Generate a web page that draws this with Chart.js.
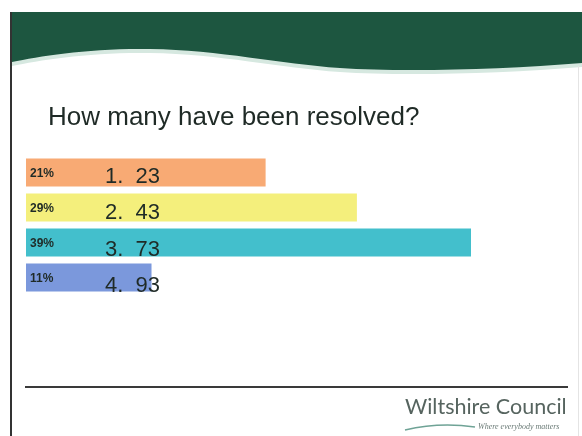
<!DOCTYPE html>
<html>
<head>
    <meta charset="utf-8">
    <title>How many have been resolved?</title>
    <style>
        body { margin: 0; background: #fff; }
        #wrap { width: 582px; height: 436px; position: relative; }
    </style>
</head>
<body>
    <div id="wrap"><canvas id="chart" width="582" height="436"></canvas></div>

    <script src="https://cdn.jsdelivr.net/npm/chart.js"></script>
    <script>
        // data
        var answers = ['1.  23', '2.  43', '3.  73', '4.  93'];
        var percents = [21, 29, 39, 11];
        var barColors = ['#f8aa74', '#f4ef7c', '#43bfcc', '#7b98dc'];

        // slide background: border, green wave, rule, title and logo
        var slide = {
            id: 'slide',
            beforeDraw: function(chart) {
                var c = chart.ctx;
                c.save();
                c.fillStyle = '#ffffff';
                c.fillRect(0, 0, chart.width, chart.height);

                // light fringe under the wave
                c.fillStyle = '#d6e8e0';
                c.beginPath();
                c.moveTo(12, 12);
                c.lineTo(582, 12);
                c.lineTo(582, 67);
                c.bezierCurveTo(500, 74, 400, 76, 340, 72);
                c.bezierCurveTo(280, 68, 220, 54, 150, 53);
                c.bezierCurveTo(90, 52, 40, 60, 12, 66);
                c.closePath();
                c.fill();

                // dark green band
                c.fillStyle = '#1d5640';
                c.beginPath();
                c.moveTo(12, 12);
                c.lineTo(582, 12);
                c.lineTo(582, 63);
                c.bezierCurveTo(500, 70, 400, 72, 340, 68);
                c.bezierCurveTo(280, 64, 220, 50, 150, 49);
                c.bezierCurveTo(90, 48, 40, 56, 12, 62);
                c.closePath();
                c.fill();

                // page border
                c.strokeStyle = '#333';
                c.lineWidth = 2;
                c.beginPath();
                c.moveTo(11, 12);
                c.lineTo(11, 436);
                c.stroke();
                c.strokeStyle = '#e4e4e4';
                c.lineWidth = 1;
                c.beginPath();
                c.moveTo(578.5, 66);
                c.lineTo(578.5, 436);
                c.stroke();

                // bottom rule
                c.strokeStyle = '#3a3a3a';
                c.lineWidth = 2;
                c.beginPath();
                c.moveTo(25, 387);
                c.lineTo(568, 387);
                c.stroke();

                // title
                c.fillStyle = '#1f2a26';
                c.font = '26px "Liberation Sans", Arial, sans-serif';
                c.textBaseline = 'alphabetic';
                c.textAlign = 'left';
                c.fillText('How many have been resolved?', 48, 125);

                // logo
                c.fillStyle = '#56645f';
                c.font = '21.5px Lato, "Open Sans", sans-serif';
                c.fillText('Wiltshire Council', 405, 414);
                c.font = 'italic 8px "Liberation Serif", serif';
                c.fillStyle = '#6a7a76';
                c.fillText('Where everybody matters', 478, 429);
                c.strokeStyle = '#6fa396';
                c.lineWidth = 1.5;
                c.beginPath();
                c.moveTo(405, 430);
                c.bezierCurveTo(430, 424, 455, 424, 475, 427);
                c.stroke();
                c.restore();
            }
        };

        // percent and answer text on top of the bars
        var barText = {
            id: 'barText',
            afterDatasetsDraw: function(chart) {
                var c = chart.ctx;
                var meta = chart.getDatasetMeta(0);
                c.save();
                c.textBaseline = 'middle';
                c.textAlign = 'left';
                meta.data.forEach(function(bar, i) {
                    c.fillStyle = '#1f2a26';
                    c.font = 'bold 12px "Liberation Sans", Arial, sans-serif';
                    c.fillText(percents[i] + '%', chart.chartArea.left + 4, bar.y + 1);
                    c.font = '22px "Liberation Sans", Arial, sans-serif';
                    c.fillText(answers[i], chart.chartArea.left + 79, bar.y + 4 + i * 1.5);
                });
                c.restore();
            }
        };

        new Chart(document.getElementById('chart'), {
            type: 'bar',
            data: {
                labels: answers,
                datasets: [{
                    data: percents,
                    backgroundColor: barColors,
                    borderWidth: 0,
                    barPercentage: 0.8,
                    categoryPercentage: 1
                }]
            },
            options: {
                indexAxis: 'y',
                responsive: false,
                animation: false,
                layout: { padding: { left: 26, right: 111, top: 155, bottom: 141 } },
                scales: {
                    x: { display: false, min: 0, max: 39 },
                    y: { display: false }
                },
                plugins: {
                    legend: { display: false },
                    tooltip: { enabled: false }
                }
            },
            plugins: [slide, barText]
        });
    </script>
</body>
</html>
